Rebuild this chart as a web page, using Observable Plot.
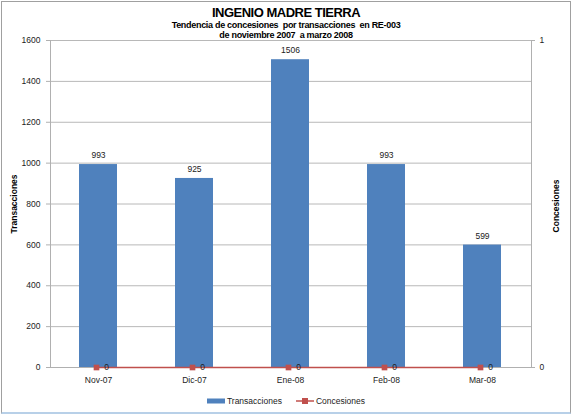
<!DOCTYPE html>
<html><head><meta charset="utf-8">
<script src="https://cdn.jsdelivr.net/npm/d3@7"></script>
<script src="https://cdn.jsdelivr.net/npm/@observablehq/plot@0.6"></script>
<style>
body{margin:0;background:#fff;font-family:"Liberation Sans",Arial,sans-serif;}
#wrap{position:relative;width:572px;height:415px;overflow:hidden;}
#border{position:absolute;left:1px;top:1px;width:568px;height:410px;border:1px solid #a0a0a0;border-bottom:2px solid #b8d0e8;}
.t{position:absolute;left:0;width:572px;text-align:center;font-weight:bold;color:#000;}
#legend{position:absolute;top:396px;left:0;width:572px;font-size:8.5px;color:#222;display:flex;justify-content:center;align-items:center;gap:2px;}
</style></head>
<body><div id="wrap"><div id="border"></div><div id="chart"></div>
<div class="t" style="top:5px;font-size:13px;letter-spacing:-0.5px">INGENIO MADRE TIERRA</div>
<div class="t" style="top:20px;font-size:9px;letter-spacing:-0.3px">Tendencia de concesiones &nbsp;por transacciones &nbsp;en RE-003</div>
<div class="t" style="top:30px;font-size:9px;letter-spacing:-0.3px">de noviembre 2007 &nbsp;a marzo 2008</div>
<div id="legend">
<svg width="18" height="8"><rect x="0" y="1.5" width="18" height="5" fill="#4f81bd"/></svg><span style="margin-right:12px">Transacciones</span>
<svg width="18" height="8"><line x1="0" x2="18" y1="4" y2="4" stroke="#c0504d" stroke-width="1.5"/><rect x="6" y="1" width="6" height="6" fill="#c0504d"/></svg><span>Concesiones</span>
</div>
</div>
<script>
const categories = ["Nov-07","Dic-07","Ene-08","Feb-08","Mar-08"];
const transacciones = [993, 925, 1506, 993, 599];
const concesiones = [0, 0, 0, 0, 0];
const leftTicks = [0,200,400,600,800,1000,1200,1400,1600];
const rightTicks = [0, 1];
const yMax = 1600, cMax = 1;

const data = categories.map((c,i)=>({cat:c, t:transacciones[i], c:concesiones[i], cy:concesiones[i]/cMax*yMax}));
const rt = rightTicks.map(v=>({v, y:v/cMax*yMax}));

// vertical axis lines + right ticks drawn using frame dimensions and y scale
function axisLines(index, scales, values, dims) {
  const g = document.createElementNS("http://www.w3.org/2000/svg","g");
  const L = dims.marginLeft, R = dims.width - dims.marginRight;
  const T = dims.marginTop, B = dims.height - dims.marginBottom;
  const add = (x1,y1,x2,y2)=>{
    const l = document.createElementNS("http://www.w3.org/2000/svg","line");
    l.setAttribute("x1",x1);l.setAttribute("y1",y1);l.setAttribute("x2",x2);l.setAttribute("y2",y2);
    l.setAttribute("stroke","#b0b0b0");l.setAttribute("stroke-width","1");
    g.appendChild(l);
  };
  add(L+0.5,T,L+0.5,B);
  add(R+0.5,T,R+0.5,B);
  rt.forEach(d=>{const y=Math.round(scales.y(d.y))+0.5; add(R,y,R+4,y);});
  return g;
}

const chart = Plot.plot({
  width:572, height:415,
  marginLeft:50, marginRight:41, marginTop:40, marginBottom:48,
  style:{fontFamily:"Liberation Sans, Arial, sans-serif", fontSize:"8.5px", color:"#222", background:"transparent"},
  x:{domain:categories, paddingInner:0.6, paddingOuter:0.3, align:0.5, label:null},
  y:{domain:[0,yMax], label:null},
  marks:[
    Plot.gridY(leftTicks,{stroke:"#b8b8b8", strokeOpacity:1, strokeWidth:1}),
    axisLines,
    Plot.axisY({ticks:leftTicks, tickFormat:d=>String(d), tickSize:4, stroke:"#b0b0b0", tickPadding:6, fill:"#222", label:null}),
    Plot.barY(data,{x:"cat", y:"t", fill:"#4f81bd", inset:0}),
    Plot.text(data,{x:"cat", y:"t", text:d=>String(d.t), dy:-9, fill:"#222"}),
    Plot.ruleY([0],{stroke:"#b0b0b0"}),
    Plot.line(data,{x:"cat", y:"cy", stroke:"#c0504d", strokeWidth:1.3}),
    Plot.dot(data,{x:"cat", y:"cy", symbol:"square", r:3.2, fill:"#c0504d", dx:-2}),
    Plot.text(data,{x:"cat", y:"cy", text:d=>String(d.c), dx:8, fill:"#222"}),
    Plot.axisX({tickSize:0, tickPadding:9, fill:"#222", label:null}),
    Plot.text(rt,{y:"y", text:d=>String(d.v), frameAnchor:"right", dx:8, fill:"#222", textAnchor:"start"}),
    Plot.text(["Transacciones"],{frameAnchor:"left", textAnchor:"middle", dx:-36, rotate:-90, fontWeight:"bold", fill:"#000", fontSize:8.5}),
    Plot.text(["Concesiones"],{frameAnchor:"right", textAnchor:"middle", dx:25, dy:2, rotate:-90, fontWeight:"bold", fill:"#000", fontSize:8.5})
  ]
});
document.getElementById("chart").appendChild(chart);
</script></body></html>
